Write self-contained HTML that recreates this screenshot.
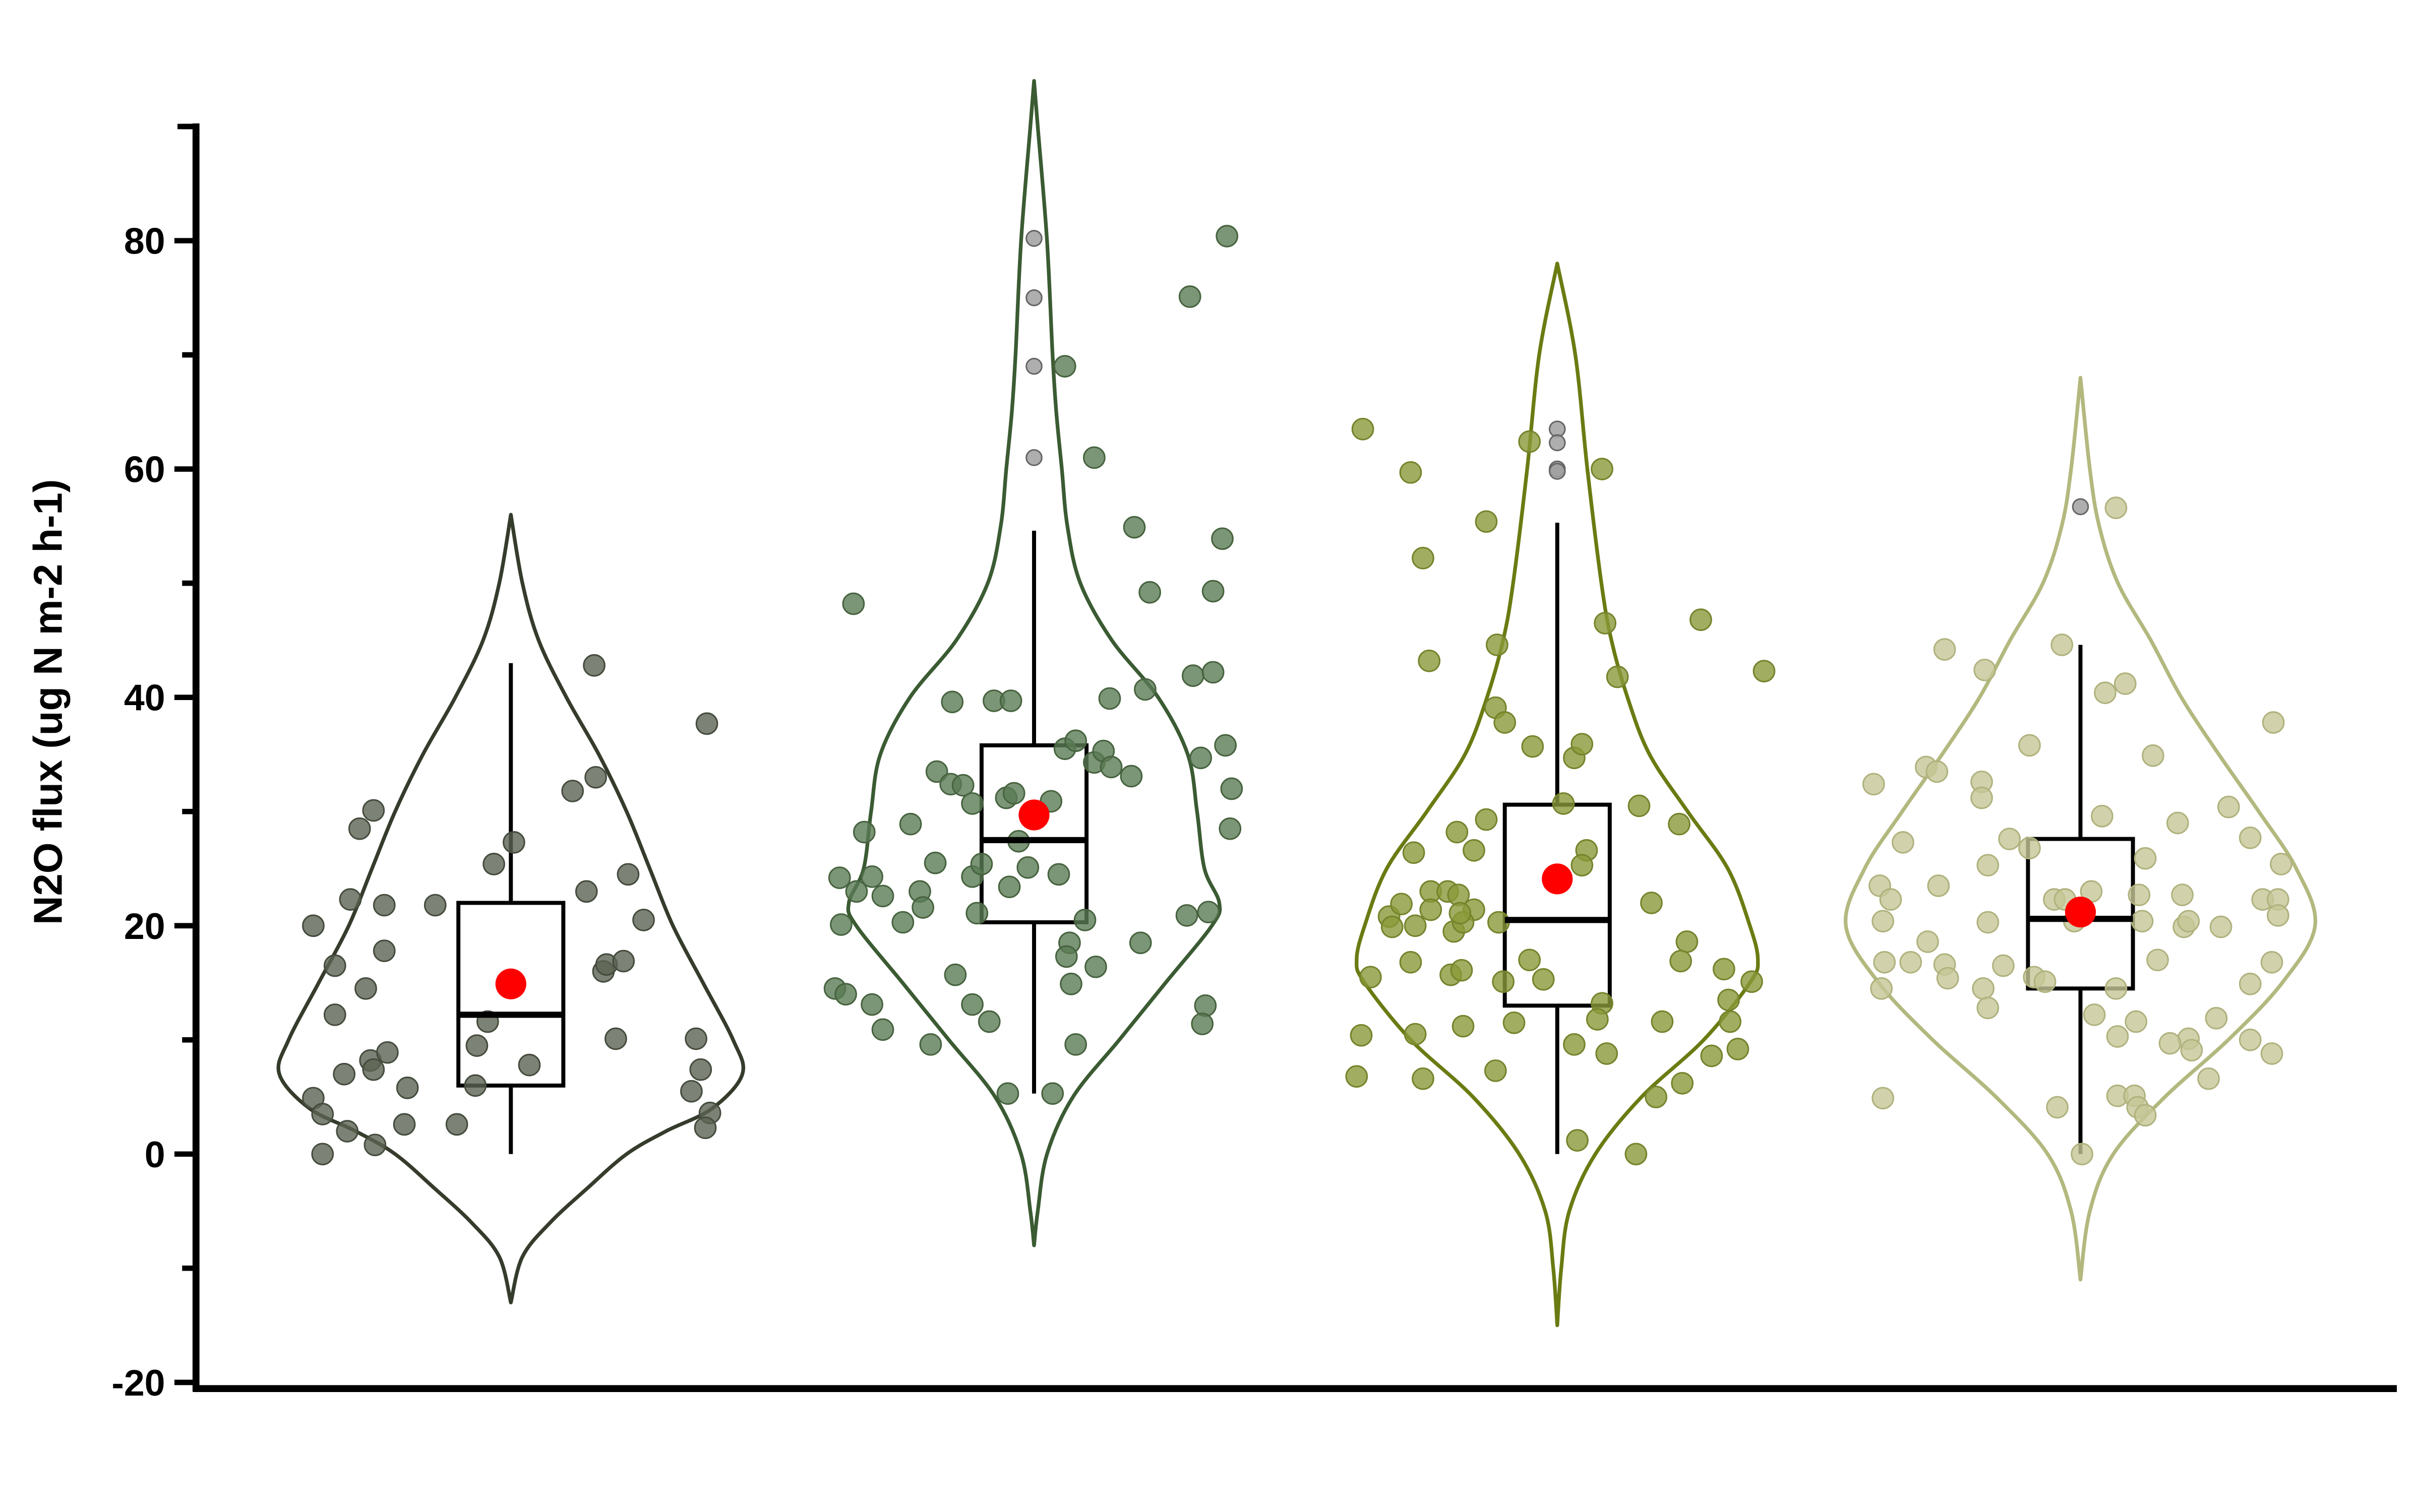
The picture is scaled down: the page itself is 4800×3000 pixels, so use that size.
<!DOCTYPE html>
<html><head><meta charset="utf-8"><style>html,body{margin:0;padding:0;background:#fff}svg{display:block}</style></head>
<body>
<svg id="chart" width="4800" height="3000" viewBox="0 0 1568 980" xmlns="http://www.w3.org/2000/svg" font-family="Liberation Sans, sans-serif">
<g id="plot"></g>
<g id="axes"></g>
</svg>
<script>
const yTicks = [-20, 0, 20, 40, 60, 80];
const yMinor = [-10, 10, 30, 50, 70, 90];
const centers = [331, 670, 1009, 1348];
const lineColors = ['#363c2c', '#3b5b33', '#6a7b12', '#b3b87e'];
const dotColors = ['#5b6352', '#5a7a55', '#8a9a3a', '#c5c796'];
const dotStroke = ['#454c3e', '#47633f', '#74842c', '#b0b27e'];
// violin: levels (value) and relative half-width (density)
const vLevels1 = [56,50,45,40,35,30,25,20,15,10,7,4,2,0,-3,-6,-9,-13];
const vDens1 = [0,0.05,0.12,0.24,0.38,0.5,0.6,0.7,0.83,0.96,1,0.87,0.67,0.5,0.33,0.17,0.05,0];
const vLevels2 = [94,90,80,70,65,60,55,50,45,40,35,30,25,22,20,15,10,5,0,-5,-8];
const vDens2 = [0,0.02,0.07,0.1,0.12,0.15,0.18,0.25,0.42,0.67,0.83,0.88,0.92,1,0.96,0.71,0.46,0.21,0.07,0.02,0];
const vLevels3 = [78,70,60,50,45,40,35,30,25,20,17,15,10,5,0,-5,-10,-15];
const vDens3 = [0,0.09,0.15,0.22,0.27,0.35,0.46,0.65,0.85,0.96,1,0.96,0.73,0.42,0.19,0.06,0.02,0];
const vLevels4 = [68,60,55,50,45,40,35,30,25,20,15,10,5,0,-5,-11];
const vDens4 = [0,0.04,0.08,0.16,0.3,0.43,0.59,0.76,0.92,1,0.86,0.63,0.36,0.14,0.04,0];
const vMaxHalf = [150, 120, 130, 152];
// box stats
const q1 = [6, 20.3, 13, 14.5];
const med = [12.2, 27.5, 20.5, 20.6];
const q3 = [22, 35.8, 30.6, 27.6];
const wLo = [0, 5.3, 0, 0];
const wHi = [43, 54.6, 55.3, 44.6];
const means = [14.9, 29.7, 24.1, 21.2];
const outliers2 = [80.2, 75, 69, 61];
const outliers3 = [63.5, 62.3, 60, 59.8];
const outliers4 = [56.7];
// points: jitter offsets and values
const jit1 = [-128,-114,-114,-104,-98,-89,-82,-82,-94,-128,-122,-108,-91,-89,-80,-67,-106,-122,-88,-69,-49,-35,-22,-15,-23,12,-11,2,40,55,54,49,60,62,73,68,76,86,120,123,117,129,126,127];
const val1 = [20,16.5,12.2,22.3,28.5,30.1,21.8,17.8,14.5,4.9,3.5,7,8.2,7.4,8.9,5.8,2,0,0.8,2.6,21.8,2.6,9.5,11.6,6,7.8,25.4,27.3,31.8,33,42.8,23,16,16.6,16.9,10.1,24.5,20.5,10.1,7.4,5.5,3.6,2.3,37.7];
const jit2 = [-117,-110,-126,-125,-115,-105,-98,-129,-122,-105,-98,-85,-74,-72,-67,-64,-80,-63,-53,-54,-46,-51,-40,-40,-37,-34,-40,-29,-26,-15,-17,-18,-13,-10,-16,-4,12,11,16,20,27,33,23,21,24,27,40,39,45,50,63,49,69,72,65,75,39,20,101,125,122,116,103,116,108,124,128,127,99,113,111,109];
const val2 = [48.2,28.2,24.2,20.1,23,24.3,22.6,14.5,14,13.1,10.9,20.3,23,21.6,9.6,25.5,28.9,33.5,39.6,32.4,32.3,15.7,30.7,24.3,21.1,25.4,13.1,11.6,39.7,39.7,5.3,31.2,31.6,27.4,23.4,25.1,5.3,30.9,24.5,35.5,36.2,20.5,18.5,17.3,14.9,9.6,16.4,34.3,35.3,33.9,33.1,39.9,18.5,40.7,54.9,49.2,61,69,75.1,80.4,53.9,49.3,41.9,42.2,34.7,35.8,32,28.5,20.9,21.2,13,11.4];
const jit3 = [-126,-95,-87,-83,-46,-18,29,31,39,93,134,-40,-34,-39,-16,11,16,4,53,79,-93,-65,-54,-46,-82,-109,-101,-107,-92,-82,-71,-64,-67,-54,-61,-63,-38,19,16,61,84,-121,-95,-69,-62,-35,-18,-9,29,80,108,126,111,112,68,26,-28,-61,-92,-127,11,32,100,117,-87,-40,-130,64,81,13,51];
const val3 = [63.5,59.7,52.2,43.2,55.4,62.4,60,46.5,41.8,46.8,42.3,39.1,37.8,44.6,35.7,34.7,35.9,30.7,30.5,28.9,26.4,28.2,26.6,29.3,23,20.8,21.9,19.9,20,21.4,23,22.7,19.5,21.4,20.3,21.1,20.3,26.6,25.3,22,18.6,15.5,16.8,15.7,16.1,15.1,17,15.3,13.2,16.9,16.2,15.1,13.5,11.6,11.6,11.8,11.5,11.2,10.5,10.4,9.6,8.8,8.6,9.2,6.6,7.3,6.8,5,6.2,1.2,0];
const jit4 = [23,-12,-88,-62,16,29,-134,-100,-93,-64,-64,-33,47,96,125,-115,-46,-33,14,63,110,42,-130,-123,-92,-60,-17,-10,7,38,66,118,130,128,-128,-99,-60,-4,40,67,70,91,128,-110,-127,-88,-86,-50,-30,-23,-63,-129,-60,23,50,110,124,9,24,36,88,70,58,72,110,124,83,-128,24,35,37,42,-15,1];
const val4 = [56.6,44.6,44.2,42.4,40.4,41.2,32.4,33.9,33.5,32.6,31.2,35.8,34.9,30.4,37.8,27.3,27.6,26.8,29.6,29,27.7,25.9,23.5,22.3,23.5,25.3,22.3,22.3,23,22.7,22.7,22.3,25.4,22.3,20.4,18.6,20.3,20.4,20.4,19.9,20.4,19.9,20.9,16.8,16.8,16.6,15.4,16.5,15.5,15.1,14.5,14.5,12.8,14.5,17,14.9,16.8,12.2,10.3,11.6,11.9,10.1,9.7,9.1,10,8.8,6.6,4.9,5.1,5.1,4.1,3.4,4.1,0];

const NS = 'http://www.w3.org/2000/svg';
const y = v => 748 - v * 7.4;
const plot = document.getElementById('plot');
const axes = document.getElementById('axes');
function mk(tag, attrs, parent) {
  const e = document.createElementNS(NS, tag);
  for (const k in attrs) e.setAttribute(k, attrs[k]);
  parent.appendChild(e);
  return e;
}
function smoothPath(pts) {
  let d = 'M' + pts[0][0] + ',' + pts[0][1];
  for (let i = 0; i < pts.length - 1; i++) {
    const p0 = pts[Math.max(0, i - 1)], p1 = pts[i], p2 = pts[i + 1], p3 = pts[Math.min(pts.length - 1, i + 2)];
    const c1 = [p1[0] + (p2[0] - p0[0]) / 6, p1[1] + (p2[1] - p0[1]) / 6];
    const c2 = [p2[0] - (p3[0] - p1[0]) / 6, p2[1] - (p3[1] - p1[1]) / 6];
    d += 'C' + c1[0] + ',' + c1[1] + ' ' + c2[0] + ',' + c2[1] + ' ' + p2[0] + ',' + p2[1];
  }
  return d;
}
const levels = [vLevels1, vLevels2, vLevels3, vLevels4];
const dens = [vDens1, vDens2, vDens3, vDens4];
const jits = [jit1, jit2, jit3, jit4];
const vals = [val1, val2, val3, val4];
const outs = [[], outliers2, outliers3, outliers4];
for (let g = 0; g < 4; g++) {
  const cx = centers[g];
  const right = levels[g].map((v, i) => [cx + dens[g][i] * vMaxHalf[g], y(v)]);
  const left = levels[g].map((v, i) => [cx - dens[g][i] * vMaxHalf[g], y(v)]).reverse();
  const vp = mk('path', {d: smoothPath(right) + smoothPath(left).replace('M', 'L') + 'Z', fill: 'none', stroke: lineColors[g], 'stroke-width': 2.4, 'stroke-linejoin': 'round'}, plot);
  
  
  const wl = mk('line', {x1: cx, x2: cx, y1: y(wLo[g]), y2: y(wHi[g]), stroke: '#000', 'stroke-width': 2.6}, plot);
  
  
  const bx = mk('rect', {x: cx - 34, y: y(q3[g]), width: 68, height: y(q1[g]) - y(q3[g]), fill: '#fff', stroke: '#000', 'stroke-width': 2.6}, plot);
  
  
  const dg = mk('g', {}, plot);
  
  
  vals[g].forEach((v, i) => {
    const c = mk('circle', {cx: cx + jits[g][i], cy: y(v), r: 6.8, fill: dotColors[g], stroke: dotStroke[g], 'stroke-width': 1, 'fill-opacity': 0.8}, dg);
    
    
  });
  const ml = mk('line', {x1: cx - 34, x2: cx + 34, y1: y(med[g]), y2: y(med[g]), stroke: '#000', 'stroke-width': 4}, plot);
  
  
  outs[g].forEach(v => {
    const o = mk('circle', {cx: cx, cy: y(v), r: 5, fill: '#a0a0a0', stroke: '#666', 'stroke-width': 1, 'fill-opacity': 0.85}, plot);
    
    
  });
  const mn = mk('circle', {cx: cx, cy: y(means[g]), r: 10, fill: '#ff0000'}, plot);
  
  
}
const ya = mk('line', {x1: 127, x2: 127, y1: 80, y2: 902, stroke: '#000', 'stroke-width': 4.5}, axes);


const xa = mk('line', {x1: 125, x2: 1553, y1: 900, y2: 900, stroke: '#000', 'stroke-width': 4.5}, axes);


const topTick = mk('line', {x1: 115, x2: 127, y1: 82, y2: 82, stroke: '#000', 'stroke-width': 3.5}, axes);


yMinor.forEach(v => {
  const t = mk('line', {x1: 118, x2: 127, y1: y(v), y2: y(v), stroke: '#000', 'stroke-width': 3.5}, axes);
  
  
});
yTicks.forEach(v => {
  const t = mk('line', {x1: 113, x2: 127, y1: y(v), y2: y(v), stroke: '#000', 'stroke-width': 3.5}, axes);
  
  
  const tx = mk('text', {x: 107, y: y(v) + 8.5, 'text-anchor': 'end', 'font-size': 24, 'font-weight': 'bold'}, axes);
  tx.textContent = v;
  
  
});
const yt = mk('text', {x: 0, y: 0, transform: 'translate(40,455) rotate(-90)', 'text-anchor': 'middle', 'font-size': 26, 'font-weight': 'bold'}, axes);
yt.textContent = 'N2O flux (ug N m-2 h-1)';


</script>
</body></html>
